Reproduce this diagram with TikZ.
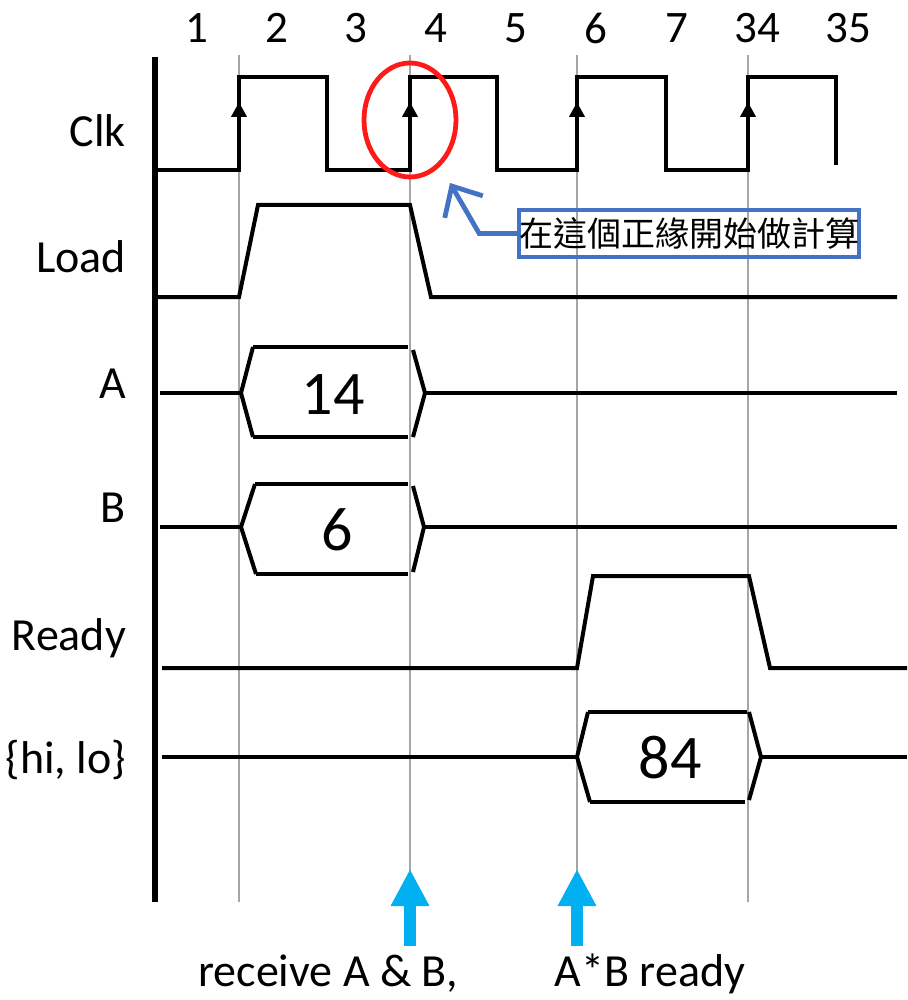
\documentclass[tikz,border=0pt]{standalone}
\usepackage{fontspec}
\setmainfont{Carlito}
\newfontfamily\cjk{Noto Sans CJK TC}
\usetikzlibrary{arrows.meta}
\definecolor{gridcol}{HTML}{A6A6A6}
\definecolor{ringcol}{HTML}{FF1A1A}
\definecolor{notecol}{HTML}{4472C4}
\definecolor{hintcol}{HTML}{00B0F0}
\tikzset{
  wave/.style={line width=2pt, line join=miter},
  gridline/.style={draw=gridcol, line width=1pt},
  cyclab/.style={font=\fontsize{22.5}{26}\selectfont},
  siglab/.style={anchor=base east, font=\fontsize{23}{27}\selectfont},
  vallab/.style={font=\fontsize{31}{36}\selectfont},
  note/.style={draw=notecol, line width=1.8pt, font=\cjk\fontsize{17}{20}\selectfont,
    minimum width=168pt, minimum height=23.5pt, inner sep=0pt},
  callout/.style={draw=notecol, line width=2.4pt, -{Straight Barb[length=12pt,width=22pt]}},
  edgetip/.style={line width=2pt, -{Triangle[length=7.5pt,width=7.5pt]}},
  hint/.style={draw=hintcol, line width=6pt, -{Triangle[length=18.5pt,width=18pt]}},
  caption/.style={anchor=base, font=\fontsize{23}{27}\selectfont},
}

\begin{document}
\begin{tikzpicture}[x=0.5pt, y=-0.5pt]
\useasboundingbox (0,0) rectangle (907,1000);

% cycle numbers and grid
\foreach \n/\x in {1/197,2/277,3/356,4/436,5/516,6/596,7/677,34/757,35/848}
  \node[cyclab] (c\n) at (\x,28) {\n};
\foreach \x in {239,410,577,748}
  \draw[gridline] (\x,55) -- (\x,902);
\draw[line width=3pt] (154.5,57) -- (154.5,902);

% signal names
\node[siglab] (clk) at (133,147) {Clk};
\node[siglab] (load) at (133,272) {Load};
\node[siglab] (sa) at (133,398) {A};
\node[siglab] (sb) at (133,522) {B};
\node[siglab] (ready) at (133,650) {Ready};
\node[siglab] (hilo) at (133,773) {\{hi, lo\}};

% Clk
\draw[wave] (158,170) -| (239,77) -| (327,170) -| (410,77) -| (497,170)
  -| (577,77) -| (666,170) -| (748,77) -| (836,165);
\foreach \x in {239,410,577,748}
  \draw[edgetip] (\x,125) -- (\x,102);

% Load
\draw[wave] (158,297) -- (239,297) -- (258,205) -- (410,205) -- (431,297) -- (897,297);

% A
\draw[wave] (160,393) -- (241,393);
\draw[wave] (253,347) -- (241,393) -- (253,437);
\draw[wave] (253,347) -- (408,347);
\draw[wave] (253,437) -- (408,437);
\draw[wave] (413,350) -- (425,393) -- (413,437);
\draw[wave] (425,393) -- (897,393);
\node[vallab] (va) at (333,395) {14};

% B
\draw[wave] (160,527) -- (241,527);
\draw[wave] (255,484) -- (241,527) -- (256,574);
\draw[wave] (255,484) -- (408,484);
\draw[wave] (256,574) -- (408,574);
\draw[wave] (413,486) -- (424,527) -- (413,572);
\draw[wave] (424,527) -- (897,527);
\node[vallab] (vb) at (337,530) {6};

% Ready
\draw[wave] (162,668) -- (577,668) -- (593,576) -- (749,576) -- (770,668) -- (907,668);

% {hi, lo}
\draw[wave] (162,757) -- (577,757);
\draw[wave] (588,712) -- (577,757) -- (590,802);
\draw[wave] (588,712) -- (747,712);
\draw[wave] (590,802) -- (745,802);
\draw[wave] (749,712) -- (761,757) -- (749,800);
\draw[wave] (761,757) -- (907,757);
\node[vallab] (vhl) at (670,758) {84};

% posedge callout
\draw[draw=ringcol, line width=2.4pt] (410,120) ellipse [x radius=46, y radius=57];
\node[note] (msg) at (689,233.5) {在這個正緣開始做計算};
\coordinate (aim) at (450,183);
\draw[callout] (msg.west) -- ++(-38,0) -- (aim);

% bottom hints
\coordinate (recv) at (410,869);
\coordinate (done) at (577,869);
\draw[hint] (410,946) -- (recv);
\draw[hint] (577,946) -- (done);
\node[caption] (crecv) at (328,986) {receive A \& B,};
\node[caption] (cdone) at (650,986) {A*B ready};

\end{tikzpicture}
\end{document}
